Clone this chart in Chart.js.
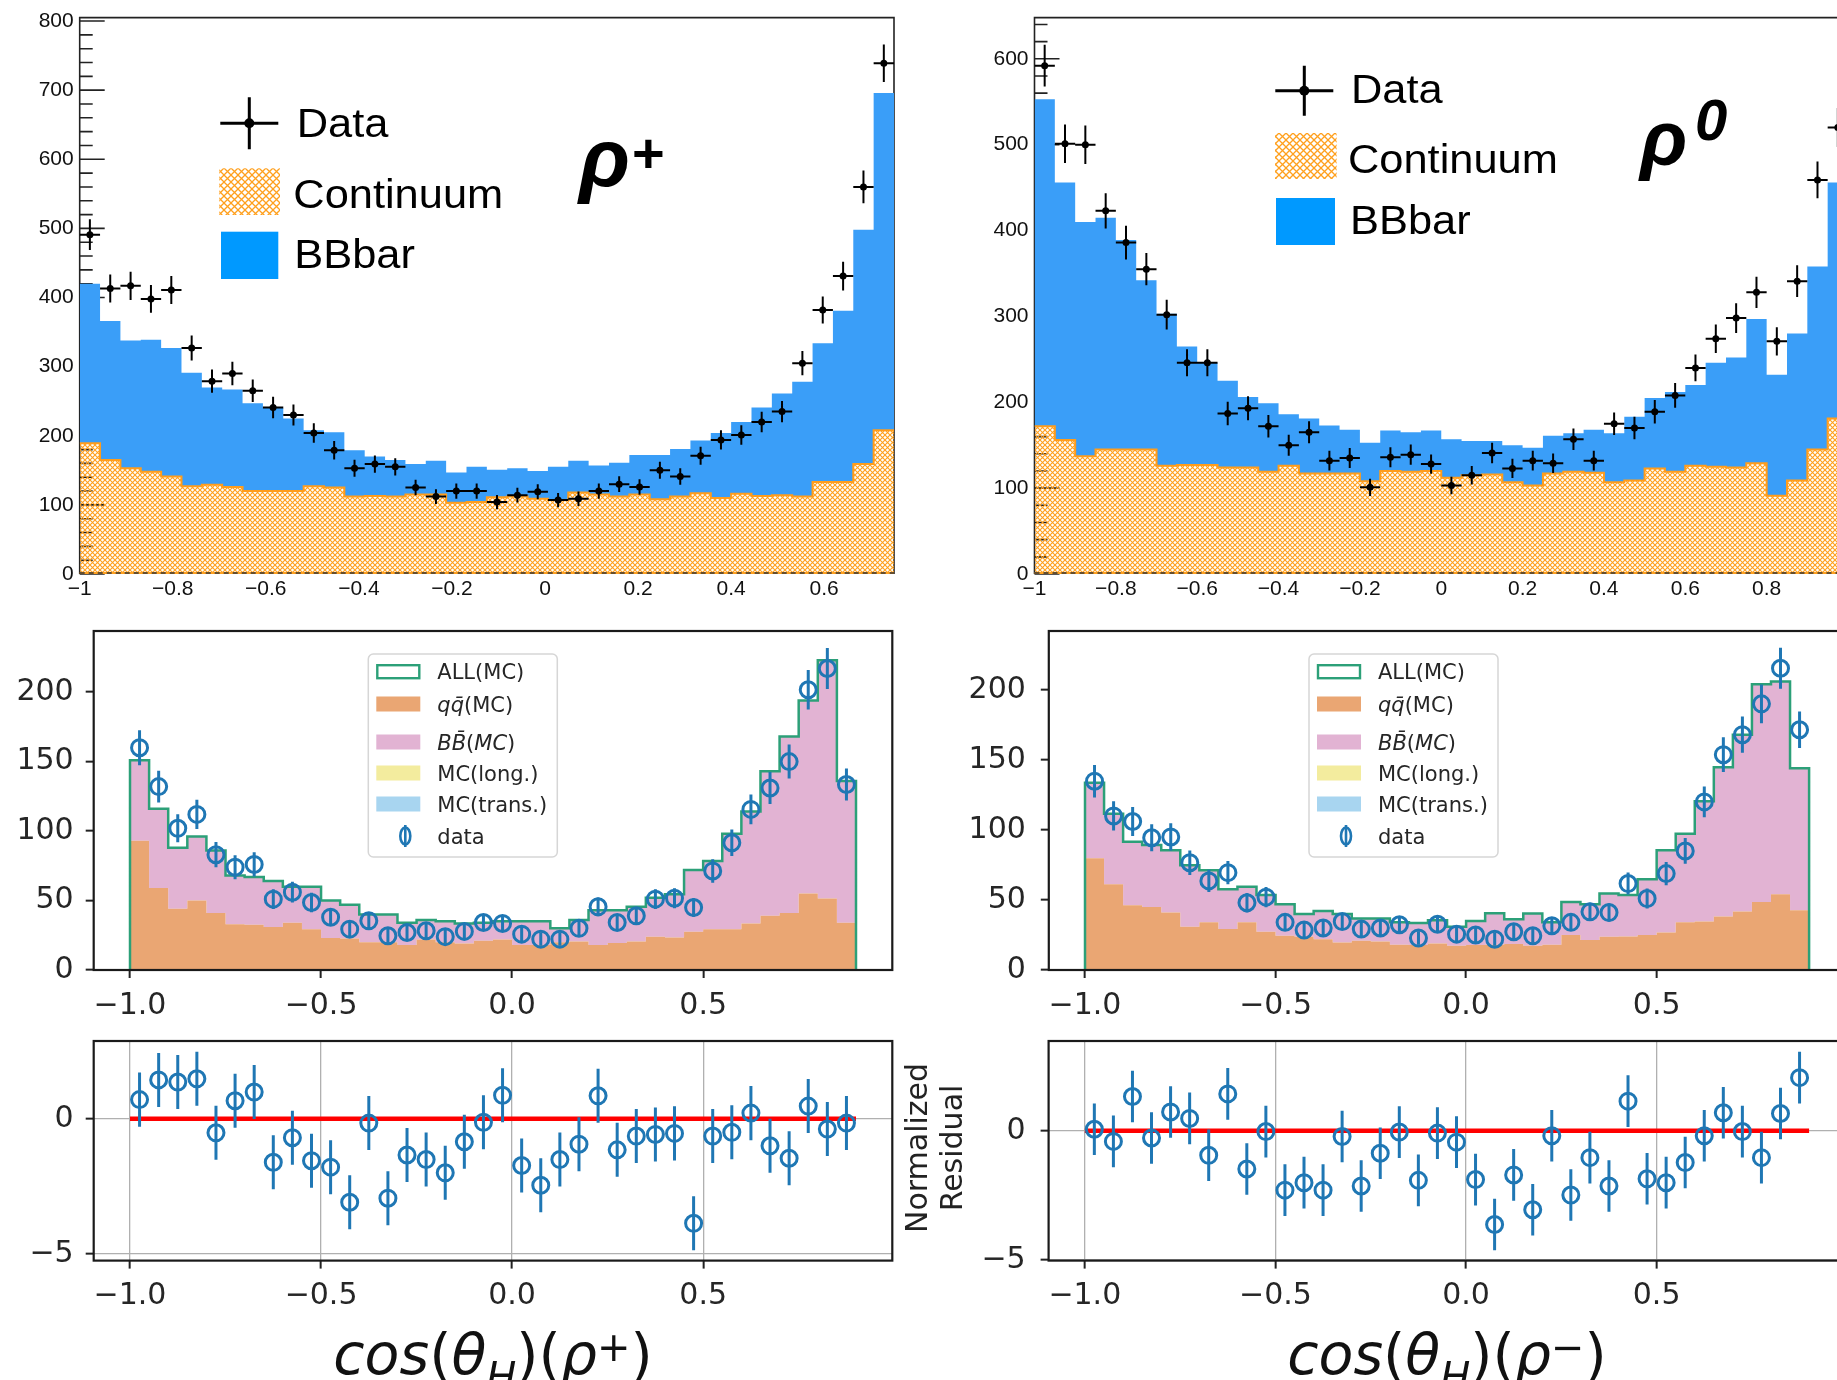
<!DOCTYPE html>
<html>
<head>
<meta charset="utf-8">
<script src="https://cdn.jsdelivr.net/npm/chart.js@4.4.1/dist/chart.umd.min.js"></script>
<style>
  html, body { margin: 0; padding: 0; background: #fff; width: 1837px; height: 1380px; overflow: hidden; position: relative; }
  canvas { position: absolute; }
</style>
</head>
<body>
<canvas id="topLeft" width="910" height="620" style="left:0px;top:0px"></canvas>
<canvas id="topRight" width="920" height="620" style="left:950px;top:0px"></canvas>
<canvas id="midLeft" width="910" height="410" style="left:0px;top:620px"></canvas>
<canvas id="midRight" width="930" height="410" style="left:930px;top:620px"></canvas>
<canvas id="resLeft" width="910" height="350" style="left:0px;top:1030px"></canvas>
<canvas id="resRight" width="980" height="350" style="left:880px;top:1030px"></canvas>
<script>
// ---- binning (x ranges of the histograms)
const LO = -1;
const TL_HI = 0.75;   // rho+ (ROOT plot), 40 bins
const TR_HI = 1.0;    // rho0 (ROOT plot), 40 bins
const MID_HI = 0.9;   // matplotlib plots, 38 bins

// ---- tick labels
const topLeftXTicks = [-1, -0.8, -0.6, -0.4, -0.2, 0, 0.2, 0.4, 0.6];
const topRightXTicks = [-1, -0.8, -0.6, -0.4, -0.2, 0, 0.2, 0.4, 0.6, 0.8, 1];
const topLeftYTicks = [0, 100, 200, 300, 400, 500, 600, 700, 800];
const topRightYTicks = [0, 100, 200, 300, 400, 500, 600];
const midXTicks = [-1, -0.5, 0, 0.5];
const midYTicks = [0, 50, 100, 150, 200];
const resYTicks = [-5, 0];

// ---- top left: rho+
const tlContinuum = [189,165,153,148,141,127,129,126,120,120,120,127,125,112,113,112,115,115,103,104,111,112,109,107,118,115,112,115,108,112,117,110,116,113,114,112,133,133,159,208];
const tlTotal = [420,366,338,339,327,291,270,267,247,240,225,208,205,179,170,165,159,164,147,155,151,153,149,155,164,157,161,172,172,181,193,204,220,241,261,278,334,381,498,696];
const tlData = [491,413,417,398,411,327,279,290,265,241,230,204,179,153,159,155,125,112,120,120,104,114,119,107,109,120,130,126,150,141,171,194,201,220,235,305,382,431,560,739];

// ---- top right: rho0
const trContinuum = [172,156,137,145,145,145,126,127,127,124,124,119,126,117,117,117,108,120,119,120,112,115,116,107,103,117,119,118,107,109,123,119,126,125,124,129,91,109,145,181];
const trTotal = [553,456,410,415,389,342,303,265,246,225,206,199,186,181,173,168,153,167,165,167,157,155,155,150,147,161,164,168,164,183,205,212,220,246,252,297,232,280,358,456];
const trData = [592,501,500,423,386,355,302,246,246,187,193,172,150,165,132,135,101,136,139,128,103,115,141,123,132,129,157,132,175,170,189,208,240,274,298,328,271,341,459,520];

// ---- middle left: rho+ MC
const mlAll = [151,116,88,96,86,68,67,64,60,60,50,47,40,40,34,36,35,33.5,34,35,35,35,30,36,43,43,45.5,52,54.5,72,78.5,98,114,143,168,194,223,136];
const mlQQ = [93,59,44,50,41,33,32.5,31,34,29.4,23,22.7,20,20,18,22,20,19,21,22,18,18,20,20.6,18,19.4,20.6,24,23.4,27.5,29.4,29.4,33.5,39,41,55,51.4,34];
const mlData = [160,132,102,112,83,74,76,51,56,48.6,38,29.4,35.4,24.6,27,28.2,24,27.8,34.2,33.5,25.8,22.2,22.2,30,45.5,34.2,39,51,51.7,45,71.3,91.6,115.6,131,150,201.7,217,133.5];

// ---- middle right: rho- MC
const mrAll = [133.6,111.5,91.6,89.2,85.4,74.7,71.2,57.7,59.5,53.6,47,39.9,42.2,40,36.8,36.8,34,33.5,35.6,30.8,35,40.6,36.3,40.3,34,48.6,47,54.6,53.6,64.8,85.4,97.3,120.5,144.7,168,204,206,144];
const mrQQ = [79.7,61.2,46.3,45,41,30.8,34,29.2,34,27.3,24.4,23.7,22,19.7,20.9,20.4,18,17.8,19,17.3,17.8,18,18.5,17.3,18,25,21.4,23.7,24,25,26.8,34,34.6,38.2,41.8,48.6,54,42.7];
const mrData = [134.8,110,106,94.4,95,76.6,63.6,69.5,48,52,34,28.5,30,34.6,29.2,30,32.3,22.8,32.7,25.6,25,22,27.3,24.4,31.6,34,41.5,41,61.7,51,68.8,85,120,153.7,168,190,215.4,171.5];

// ---- residuals
const resLeft = [0.71,1.44,1.36,1.48,-0.52,0.67,0.99,-1.61,-0.70,-1.55,-1.79,-3.09,-0.16,-2.94,-1.34,-1.51,-2.0,-0.85,-0.13,0.87,-1.73,-2.46,-1.51,-0.94,0.85,-1.15,-0.64,-0.58,-0.54,-3.87,-0.64,-0.50,0.21,-1.0,-1.46,0.47,-0.38,-0.16];
const resRight = [0.06,-0.41,1.33,-0.28,0.73,0.48,-0.95,1.43,-1.48,-0.03,-2.30,-2.01,-2.30,-0.22,-2.14,-0.87,-0.05,-1.92,-0.09,-0.44,-1.89,-3.63,-1.71,-3.06,-0.19,-2.49,-1.04,-2.14,1.15,-1.86,-2.01,-1.23,-0.19,0.70,-0.03,-1.04,0.67,2.06];
const redLineX = [-1, 0.9];
const redLineY = [0, 0];

// ---------------------------------------------------------------
const ROOTFONT = '"Liberation Sans", Arial, sans-serif';
const MPLFONT = '"DejaVu Sans", sans-serif';
const BLUE = '#1f77b4';

function stepPts(vals, lo, hi, close) {
  const w = (hi - lo) / vals.length;
  const pts = vals.map((v, i) => ({ x: lo + i * w, y: v }));
  pts.push({ x: hi, y: vals[vals.length - 1] });
  if (close) { pts.unshift({ x: lo, y: 0 }); pts.push({ x: hi, y: 0 }); }
  return pts;
}
function centerPts(vals, lo, hi) {
  const w = (hi - lo) / vals.length;
  return vals.map((v, i) => ({ x: lo + (i + 0.5) * w, y: v }));
}
function hatch(size, color, lw) {
  const c = document.createElement('canvas');
  c.width = c.height = size;
  const g = c.getContext('2d');
  g.strokeStyle = color; g.lineWidth = lw;
  g.beginPath();
  g.moveTo(0, 0); g.lineTo(size, size);
  g.moveTo(size, 0); g.lineTo(0, size);
  g.stroke();
  return g.createPattern(c, 'repeat');
}
const hatchFine = hatch(5, '#ffa01e', 1.1);
const hatchBig = hatch(7, '#ffa01e', 1.3);

function rootFmt(v) {
  const r = Math.round(v * 10) / 10;
  return (r < 0 ? '\u2212' : '') + String(Math.abs(r));
}
function midFmt(v) { return (v < 0 ? '\u2212' : '') + Math.abs(v).toFixed(1); }
function intFmt(v) { return (v < 0 ? '\u2212' : '') + String(Math.abs(v)); }

function richText(ctx, runs, cx, y) {
  ctx.textAlign = 'left'; ctx.textBaseline = 'alphabetic';
  let total = 0;
  runs.forEach(r => { ctx.font = r[1]; total += ctx.measureText(r[0]).width; });
  let x = cx - total / 2;
  runs.forEach(r => {
    ctx.font = r[1];
    ctx.fillText(r[0], x, y + (r[2] || 0));
    x += ctx.measureText(r[0]).width;
  });
}
function runsAt(ctx, runs, x, y) {
  ctx.textAlign = 'left'; ctx.textBaseline = 'alphabetic';
  runs.forEach(r => { ctx.font = r[1]; ctx.fillText(r[0], x, y); x += ctx.measureText(r[0]).width; });
}
// the ROOT legend text in the picture is a bit wider than Liberation Sans
function wideText(ctx, text, x, y, sx) {
  ctx.save(); ctx.translate(x, y); ctx.scale(sx, 1); ctx.fillText(text, 0, 0); ctx.restore();
}

function rootAxes(chart, R) {
  const ctx = chart.ctx, a = chart.chartArea, ys = chart.scales.y;
  ctx.save();
  ctx.strokeStyle = '#222'; ctx.lineWidth = 1.6;
  ctx.beginPath();
  ctx.moveTo(a.left, a.bottom); ctx.lineTo(a.left, a.top); ctx.lineTo(a.right, a.top); ctx.lineTo(a.right, a.bottom);
  for (let i = 0; i * R.minor <= R.max; i++) {
    const v = i * R.minor, py = ys.getPixelForValue(v);
    ctx.moveTo(a.left, py); ctx.lineTo(a.left + (v % R.major === 0 ? 25 : 13), py);
  }
  ctx.stroke();
  ctx.restore();
}
function rootBase(chart) {
  const ctx = chart.ctx, a = chart.chartArea;
  ctx.save();
  ctx.strokeStyle = '#ffa01e'; ctx.lineWidth = 2;
  ctx.beginPath(); ctx.moveTo(a.left, a.bottom - 1); ctx.lineTo(a.right, a.bottom - 1); ctx.stroke();
  ctx.setLineDash([5, 4]); ctx.strokeStyle = '#333'; ctx.lineWidth = 1.4;
  ctx.beginPath(); ctx.moveTo(a.left, a.bottom - 1); ctx.lineTo(a.right, a.bottom - 1); ctx.stroke();
  ctx.restore();
}
function rootLegend(ctx, L) {
  const [cx, cy] = L.cross;
  ctx.strokeStyle = '#000'; ctx.fillStyle = '#000'; ctx.lineWidth = 3;
  ctx.beginPath();
  ctx.moveTo(cx - 29, cy); ctx.lineTo(cx + 29, cy);
  ctx.moveTo(cx, cy - L.ch); ctx.lineTo(cx, cy + L.ch);
  ctx.stroke();
  ctx.beginPath(); ctx.arc(cx, cy, 5, 0, Math.PI * 2); ctx.fill();
  ctx.fillStyle = hatchBig; ctx.fillRect(L.cont[0], L.cont[1], L.cont[2], L.cont[3]);
  ctx.fillStyle = '#0099ff'; ctx.fillRect(L.bb[0], L.bb[1], L.bb[2], L.bb[3]);
  ctx.fillStyle = '#000'; ctx.textAlign = 'left'; ctx.textBaseline = 'alphabetic';
  ctx.font = '40px ' + ROOTFONT;
  L.texts.forEach(t => wideText(ctx, t[0], t[1], t[2], 1.085));
  ctx.font = L.rho.font; ctx.fillText('\u03c1', L.rho.x, L.rho.y);
  ctx.font = L.rho.supFont; ctx.textBaseline = 'middle';
  ctx.fillText(L.rho.sup, L.rho.sx, L.rho.sy);
}
function mplLegend(ctx, L) {
  const x = L.x, y = L.y, R = '21px ' + MPLFONT, I = 'italic 21px ' + MPLFONT;
  ctx.beginPath(); ctx.roundRect(x, y, 189, 203, 5);
  ctx.fillStyle = 'rgba(255,255,255,0.8)'; ctx.fill();
  ctx.strokeStyle = '#d6d6d6'; ctx.lineWidth = 1.5; ctx.stroke();
  const rows = [
    { dy: 17.7, patch: 'outline', runs: [['ALL(MC)', R]] },
    { dy: 50, patch: '#eaa673', runs: [['q', I], ['q\u0304', I], ['(MC)', R]] },
    { dy: 88, patch: '#e2b3d3', runs: [['BB\u0304', I], ['(', R], ['MC', I], [')', R]] },
    { dy: 119, patch: '#f3ec9e', runs: [['MC(long.)', R]] },
    { dy: 150, patch: '#a8d5f0', runs: [['MC(trans.)', R]] },
    { dy: 182, patch: 'marker', runs: [['data', R]] }
  ];
  rows.forEach(r => {
    const cy = y + r.dy;
    if (r.patch === 'outline') {
      ctx.fillStyle = '#fff'; ctx.fillRect(x + 8, cy - 7.5, 44, 15);
      ctx.strokeStyle = '#2ca078'; ctx.lineWidth = 2.4; ctx.strokeRect(x + 9, cy - 6.5, 42, 13);
    } else if (r.patch === 'marker') {
      ctx.strokeStyle = BLUE; ctx.lineWidth = 2.6;
      ctx.beginPath(); ctx.ellipse(x + 37, cy, 5, 8.5, 0, 0, Math.PI * 2); ctx.stroke();
      ctx.beginPath(); ctx.moveTo(x + 37, cy - 11); ctx.lineTo(x + 37, cy + 11); ctx.stroke();
    } else {
      ctx.fillStyle = r.patch; ctx.fillRect(x + 8, cy - 7.5, 44, 15);
    }
    ctx.fillStyle = '#262626';
    runsAt(ctx, r.runs, x + 69, cy + 7.5);
  });
}

const deco = {
  id: 'deco',
  beforeDatasetsDraw(chart, args, o) {
    if (o.root) rootAxes(chart, o.root);
  },
  afterDatasetsDraw(chart, args, o) {
    const ctx = chart.ctx, a = chart.chartArea, xs = chart.scales.x, ys = chart.scales.y;
    if (o.root) rootBase(chart);
    chart.data.datasets.forEach(ds => {
      if (!ds.err) return;
      ctx.save();
      ctx.beginPath(); ctx.rect(a.left, a.top, a.width, a.height); ctx.clip();
      ctx.strokeStyle = ds.err.color; ctx.lineWidth = ds.err.width;
      ctx.beginPath();
      ds.data.forEach(p => {
        const e = ds.err.y === 'sqrt' ? Math.sqrt(p.y) : ds.err.y;
        const px = xs.getPixelForValue(p.x), py = ys.getPixelForValue(p.y);
        ctx.moveTo(px, ys.getPixelForValue(p.y - e)); ctx.lineTo(px, ys.getPixelForValue(p.y + e));
        if (ds.err.x) {
          ctx.moveTo(xs.getPixelForValue(p.x - ds.err.x), py); ctx.lineTo(xs.getPixelForValue(p.x + ds.err.x), py);
        }
      });
      ctx.stroke();
      ctx.restore();
    });
  },
  afterDraw(chart, args, o) {
    const ctx = chart.ctx, a = chart.chartArea;
    ctx.save();
    if (!o.root) {
      ctx.strokeStyle = '#1a1a1a'; ctx.lineWidth = 2.2;
      ctx.strokeRect(a.left, a.top, a.width, a.height);
    }
    if (o.rootLegend) rootLegend(ctx, o.rootLegend);
    if (o.mplLegend) mplLegend(ctx, o.mplLegend);
    if (o.title) { ctx.fillStyle = '#111'; richText(ctx, o.title, (a.left + a.right) / 2, o.titleY); }
    if (o.ylabel) {
      ctx.fillStyle = '#222'; ctx.font = '30px ' + MPLFONT;
      ctx.textAlign = 'center'; ctx.textBaseline = 'alphabetic';
      o.ylabel.forEach(l => {
        ctx.save(); ctx.translate(l[1], l[2]); ctx.rotate(-Math.PI / 2);
        ctx.fillText(l[0], 0, 0); ctx.restore();
      });
    }
    ctx.restore();
  }
};

function rootScales(xmax, xt, ymax, yt, yw) {
  const font = { family: ROOTFONT, size: 21 };
  return {
    x: {
      type: 'linear', min: LO, max: xmax,
      afterBuildTicks: s => { s.ticks = xt.map(v => ({ value: v })); },
      afterFit: s => { s.height = 46; s.paddingLeft = 0; s.paddingRight = 0; },
      grid: { display: false, drawTicks: false }, border: { display: false },
      ticks: { autoSkip: false, maxRotation: 0, padding: 3, font, color: '#111', callback: v => rootFmt(v) }
    },
    y: {
      type: 'linear', min: 0, max: ymax,
      afterBuildTicks: s => { s.ticks = yt.map(v => ({ value: v })); },
      afterFit: s => { s.width = yw; s.paddingTop = 0; s.paddingBottom = 0; },
      grid: { display: false, drawTicks: false }, border: { display: false },
      ticks: { autoSkip: false, padding: 6, font, color: '#111', callback: v => String(v) }
    }
  };
}
function mplScales(ymin, ymax, yt, yw, xh, ypad, gridOn) {
  const font = { family: MPLFONT, size: 30 };
  const grid = { display: true, drawOnChartArea: gridOn, color: '#b0b0b0', lineWidth: 1.3,
                 drawTicks: true, tickLength: 8, tickColor: '#222', tickWidth: 2 };
  return {
    x: {
      type: 'linear', min: -1.095, max: 0.995,
      afterBuildTicks: s => { s.ticks = midXTicks.map(v => ({ value: v })); },
      afterFit: s => { s.height = xh; s.paddingLeft = 0; s.paddingRight = 0; },
      grid, border: { display: false },
      ticks: { autoSkip: false, maxRotation: 0, padding: 10, font, color: '#262626', callback: v => midFmt(v) }
    },
    y: {
      type: 'linear', min: ymin, max: ymax,
      afterBuildTicks: s => { s.ticks = yt.map(v => ({ value: v })); },
      afterFit: s => { s.width = yw; s.paddingTop = 0; s.paddingBottom = 0; },
      grid, border: { display: false },
      ticks: { autoSkip: false, padding: ypad, font, color: '#262626', callback: v => intFmt(v) }
    }
  };
}
function baseOptions(pad, scales, decoOpts) {
  return {
    responsive: false, animation: false, devicePixelRatio: 1,
    layout: { padding: pad },
    scales,
    plugins: { legend: { display: false }, tooltip: { enabled: false }, deco: decoOpts }
  };
}

function rootChart(id, hi, cont, total, data, xt, ymax, yt, yw, padRight, legend) {
  const half = (hi - LO) / data.length / 2;
  return new Chart(document.getElementById(id), {
    type: 'scatter',
    data: {
      datasets: [
        { label: 'Continuum', data: stepPts(cont, LO, hi), showLine: true, stepped: true, pointRadius: 0,
          borderColor: '#ff9d1c', borderWidth: 2, backgroundColor: hatchFine, fill: 'origin', order: 2 },
        { label: 'BBbar', data: stepPts(total, LO, hi), showLine: true, stepped: true, pointRadius: 0,
          borderWidth: 0, backgroundColor: '#3a9ef8', fill: '-1', order: 3 },
        { label: 'Data', data: centerPts(data, LO, hi), pointRadius: 3.5, pointBackgroundColor: '#000',
          pointBorderWidth: 0, err: { y: 'sqrt', x: half, color: '#000', width: 2 }, order: 0 }
      ]
    },
    options: baseOptions({ left: 0, top: 17.6, right: padRight, bottom: 0 },
      rootScales(hi, xt, ymax, yt, yw),
      { root: { max: ymax, major: 100, minor: 20 }, rootLegend: legend }),
    plugins: [deco]
  });
}

function mcChart(id, all, qq, data, ymax, yw, ypad, padRight, legendX) {
  return new Chart(document.getElementById(id), {
    type: 'scatter',
    data: {
      datasets: [
        { label: 'qq(MC)', data: stepPts(qq, LO, MID_HI), showLine: true, stepped: true, pointRadius: 0,
          borderWidth: 0, backgroundColor: '#eaa673', fill: 'origin', order: 2 },
        { label: 'BB(MC)', data: stepPts(all, LO, MID_HI), showLine: true, stepped: true, pointRadius: 0,
          borderWidth: 0, backgroundColor: '#e2b3d3', fill: '-1', order: 3 },
        { label: 'ALL(MC)', data: stepPts(all, LO, MID_HI, true), showLine: true, stepped: true, pointRadius: 0,
          borderColor: '#2ca078', borderWidth: 2.5, fill: false, order: 1 },
        { label: 'data', data: centerPts(data, LO, MID_HI), pointStyle: 'circle', pointRadius: 8,
          pointBorderColor: BLUE, pointBorderWidth: 3, pointBackgroundColor: 'rgba(0,0,0,0)',
          err: { y: 'sqrt', color: BLUE, width: 3 }, order: 0 }
      ]
    },
    options: baseOptions({ left: 0, top: 9, right: padRight, bottom: 0 },
      mplScales(0, ymax, midYTicks, yw, 60, ypad, false),
      { mplLegend: { x: legendX, y: 34 } }),
    plugins: [deco]
  });
}

function resChart(id, res, ymin, ymax, yw, ypad, padRight, title, ylabel) {
  return new Chart(document.getElementById(id), {
    type: 'scatter',
    data: {
      datasets: [
        { label: 'residual', data: centerPts(res, LO, MID_HI), pointStyle: 'circle', pointRadius: 8,
          pointBorderColor: BLUE, pointBorderWidth: 3, pointBackgroundColor: 'rgba(0,0,0,0)',
          err: { y: 1, color: BLUE, width: 3 }, order: 0 },
        { label: 'zero', data: redLineX.map((x, i) => ({ x, y: redLineY[i] })), showLine: true, pointRadius: 0,
          borderColor: '#ff0000', borderWidth: 4.5, fill: false, order: 1 }
      ]
    },
    options: baseOptions({ left: 0, top: 5.7, right: padRight, bottom: 0 },
      mplScales(ymin, ymax, resYTicks, yw, 119.4, ypad, true),
      { title, titleY: 344, ylabel }),
    plugins: [deco]
  });
}

const TI = 'italic 57px ' + MPLFONT, TR = '57px ' + MPLFONT;
const TIS = 'italic 40px ' + MPLFONT, TRS = '40px ' + MPLFONT;

rootChart('topLeft', TL_HI, tlContinuum, tlTotal, tlData, topLeftXTicks, 805, topLeftYTicks, 79.7, 16, {
  cross: [249.3, 123.3], ch: 26,
  cont: [219.3, 168.3, 60.7, 46.7], bb: [221, 231.7, 57.3, 47.3],
  texts: [['Data', 296.7, 137.3], ['Continuum', 293.3, 208.3], ['BBbar', 294.3, 268.3]],
  rho: { font: 'bold italic 84px ' + ROOTFONT, x: 579, y: 187, supFont: 'bold 56px ' + ROOTFONT, sup: '+', sx: 632, sy: 157 }
});
rootChart('topRight', TR_HI, trContinuum, trTotal, trData, topRightXTicks, 648, topRightYTicks, 84.5, 22, {
  cross: [354.3, 90.7], ch: 25,
  cont: [325, 133, 61.6, 46], bb: [326, 198, 59, 47],
  texts: [['Data', 401, 103.3], ['Continuum', 398, 173], ['BBbar', 400, 234.2]],
  rho: { font: 'bold italic 78px ' + ROOTFONT, x: 690, y: 165, supFont: 'bold italic 58px ' + ROOTFONT, sup: '0', sx: 745, sy: 124 }
});
mcChart('midLeft', mlAll, mlQQ, mlData, 244, 93.7, 12, 17.7, 368.3);
mcChart('midRight', mrAll, mrQQ, mrData, 242, 118.8, 15, 14.7, 379);
resChart('resLeft', resLeft, -5.25, 2.88, 93.7, 12, 17.7,
  [['cos', TI], ['(', TR], ['\u03b8', TI], ['H', TIS, 17], [')(', TR], ['\u03c1', TI], ['+', TRS, -13], [')', TR]], null);
resChart('resRight', resRight, -5.03, 3.48, 168.6, 15, 14.7,
  [['cos', TI], ['(', TR], ['\u03b8', TI], ['H', TIS, 17], [')(', TR], ['\u03c1', TI], ['\u2212', TRS, -13], [')', TR]],
  [['Normalized', 46.7, 118], ['Residual', 81.7, 118]]);
</script>
</body>
</html>
